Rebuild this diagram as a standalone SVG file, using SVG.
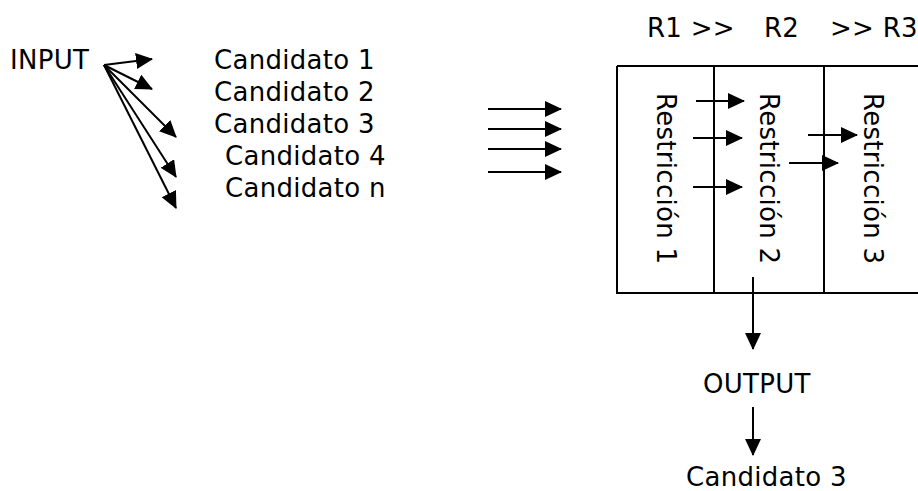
<svg xmlns="http://www.w3.org/2000/svg" width="918" height="491" viewBox="0 0 918 491">
  <style>
    .t { font-family: "DejaVu Sans", Verdana, sans-serif; font-size: 26px; letter-spacing: 0.3px; fill: #000; }
    .ln { stroke: #000; stroke-width: 2; fill: none; }
    .arr { stroke: #000; stroke-width: 2; fill: none; marker-end: url(#head); }
  </style>
  <defs>
    <marker id="head" markerUnits="userSpaceOnUse" markerWidth="18" markerHeight="17" refX="16" refY="8" orient="auto">
      <path d="M0,0 L17,8 L0,16 Z" fill="#000"/>
    </marker>
  </defs>
  <rect width="918" height="491" fill="#fff"/>

  <!-- input side -->
  <g id="input"><text class="t" x="10" y="69">INPUT</text></g>
  <g id="cand1"><text class="t" x="214" y="69">Candidato 1</text></g>
  <g id="cand2"><text class="t" x="214" y="101">Candidato 2</text></g>
  <g id="cand3"><text class="t" x="214" y="133">Candidato 3</text></g>
  <g id="cand4"><text class="t" x="225" y="165">Candidato 4</text></g>
  <g id="candn"><text class="t" x="225" y="197">Candidato n</text></g>

  <!-- ranking header -->
  <g id="ranking">
    <text class="t" y="37"><tspan x="647">R1 &gt;&gt;</tspan><tspan x="764">R2</tspan><tspan x="830">&gt;&gt; R3</tspan></text>
  </g>

  <!-- restriction columns -->
  <g id="restrictions">
    <path class="ln" d="M617,66 H918 M616,293 H918 M617,66 V293 M714,66 V293 M824,66 V293"/>
    <text class="t" transform="translate(657,93) rotate(90)">Restricción 1</text>
    <text class="t" transform="translate(760,93) rotate(90)">Restricción 2</text>
    <text class="t" transform="translate(864,93) rotate(90)">Restricción 3</text>
  </g>

  <g id="output"><text class="t" x="703" y="393">OUTPUT</text></g>
  <g id="result"><text class="t" x="686" y="486">Candidato 3</text></g>

  <!-- connectors -->
  <g id="connectors">
    <line class="arr" x1="104" y1="65" x2="152" y2="59"/>
    <line class="arr" x1="104" y1="65" x2="152" y2="89"/>
    <line class="arr" x1="104" y1="65" x2="176" y2="137"/>
    <line class="arr" x1="104" y1="65" x2="176" y2="177"/>
    <line class="arr" x1="104" y1="65" x2="176" y2="208"/>

    <line class="arr" x1="488" y1="109" x2="561" y2="109"/>
    <line class="arr" x1="488" y1="129" x2="561" y2="129"/>
    <line class="arr" x1="488" y1="149" x2="561" y2="149"/>
    <line class="arr" x1="488" y1="172" x2="561" y2="172"/>

    <line class="arr" x1="696" y1="101" x2="744" y2="101"/>
    <line class="arr" x1="693" y1="138" x2="742" y2="138"/>
    <line class="arr" x1="693" y1="187" x2="742" y2="187"/>
    <line class="arr" x1="808" y1="135" x2="857" y2="135"/>
    <line class="arr" x1="789" y1="163" x2="838" y2="163"/>

    <line class="arr" x1="753" y1="277" x2="753" y2="349"/>
    <line class="arr" x1="753" y1="407" x2="753" y2="455"/>
  </g>
</svg>
